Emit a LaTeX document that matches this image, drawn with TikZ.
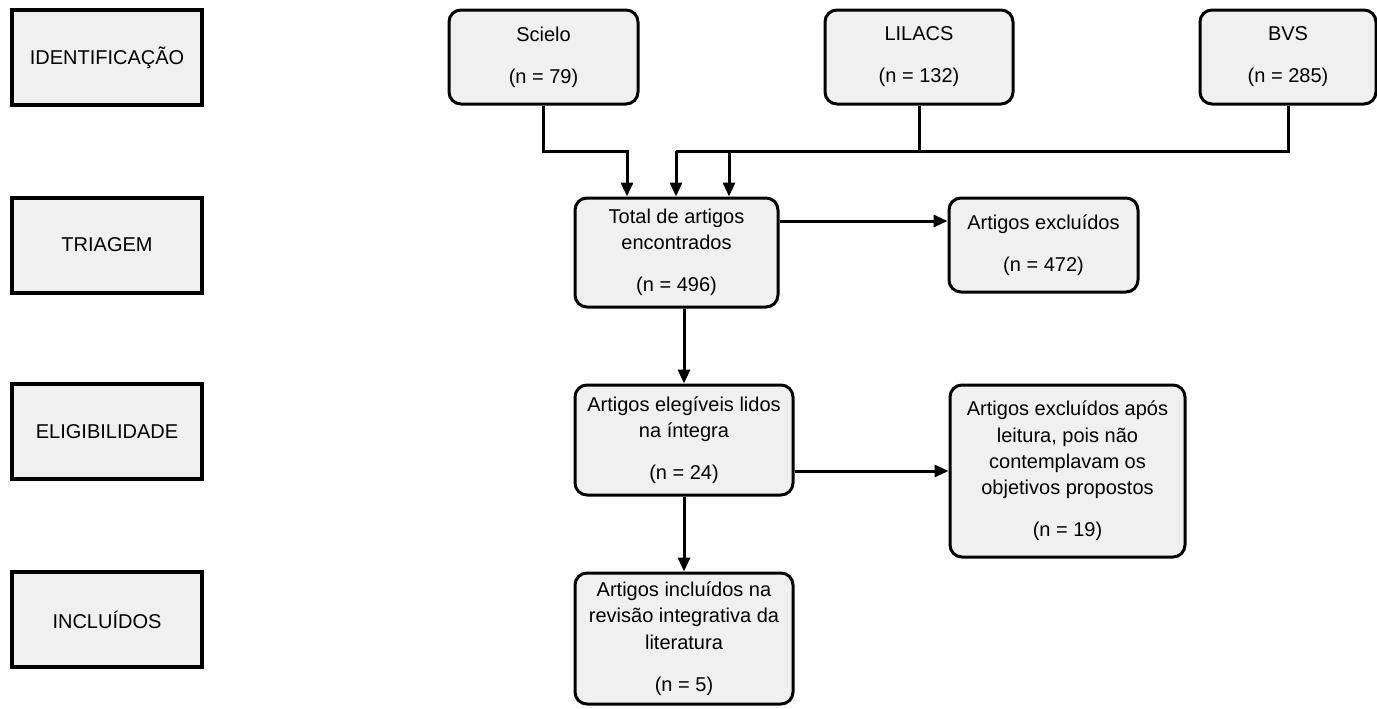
\documentclass[tikz,border=0pt]{standalone}
\usepackage{fontspec}
\setmainfont{Liberation Sans}
\usetikzlibrary{arrows.meta}

\definecolor{cinza}{HTML}{F0F0F0}

\begin{document}
\begin{tikzpicture}[
  x=0.5pt, y=-0.5pt,
  every node/.style={font=\fontsize{10}{13.2}\selectfont, align=center, inner sep=0pt},
  fase/.style={draw, line width=2pt, fill=cinza, minimum width=95pt, minimum height=47.5pt},
  caixa/.style={draw, line width=1.5pt, fill=cinza, rounded corners=6pt},
  seta/.style={line width=1.5pt, -{Triangle[length=7pt,width=6pt]}},
  linha/.style={line width=1.5pt}
]
\useasboundingbox (0,0) rectangle (1377,708);

% etapas
\node[fase] (ident) at (107,57.5) {IDENTIFICAÇÃO};
\node[fase] (triag) at (107,245) {TRIAGEM};
\node[fase] (eleg) at (107,431.5) {ELIGIBILIDADE};
\node[fase] (incl) at (107,619.5) {INCLUÍDOS};

% bases
\node[caixa, minimum width=94.5pt, minimum height=47pt] (scielo) at (543.5,57) {Scielo\\[7.8pt](n = 79)};
\node[caixa, minimum width=94pt, minimum height=47pt] (lilacs) at (919,57) {LILACS\\[7.8pt](n = 132)};
\node[caixa, minimum width=88pt, minimum height=47pt] (bvs) at (1288,57) {BVS\\[7.8pt](n = 285)};

\node[caixa, minimum width=101.5pt, minimum height=54.5pt] (total) at (676.5,252.5) {Total de artigos\\encontrados\\[7.8pt](n = 496)};
\node[caixa, minimum width=94.5pt, minimum height=47pt] (exc1) at (1043.5,245) {Artigos excluídos\\[7.8pt](n = 472)};
\node[caixa, minimum width=109pt, minimum height=55pt] (elegiveis) at (684,440) {Artigos elegíveis lidos\\na íntegra\\[7.8pt](n = 24)};
\node[caixa, minimum width=117.5pt, minimum height=86pt] (exc2) at (1067.5,471) {Artigos excluídos após\\leitura, pois não\\contemplavam os\\objetivos propostos\\[7.8pt](n = 19)};
\node[caixa, minimum width=109pt, minimum height=65.5pt] (incluidos) at (684,638.5) {Artigos incluídos na\\revisão integrativa da\\literatura\\[7.8pt](n = 5)};

% ligacoes
\coordinate (j1) at (627,151);
\coordinate (j2) at (676,151);
\coordinate (j3) at (729,151);

\draw[seta] (scielo.south) |- (j1) -- (j1 |- total.north);
\draw[linha] (bvs.south) |- (j2);
\draw[linha] (lilacs.south) -- (lilacs.south |- j2);
\draw[seta] (j2) -- (j2 |- total.north);
\draw[seta] (j3) -- (j3 |- total.north);

\draw[seta] ([yshift=15.75pt]total.east) -- ([yshift=15.75pt]total.east -| exc1.west);
\draw[seta] (elegiveis.north |- total.south) -- (elegiveis.north);
\draw[seta] (elegiveis.east |- exc2.west) -- (exc2.west);
\draw[seta] (elegiveis.south) -- (incluidos.north);

\end{tikzpicture}
\end{document}
